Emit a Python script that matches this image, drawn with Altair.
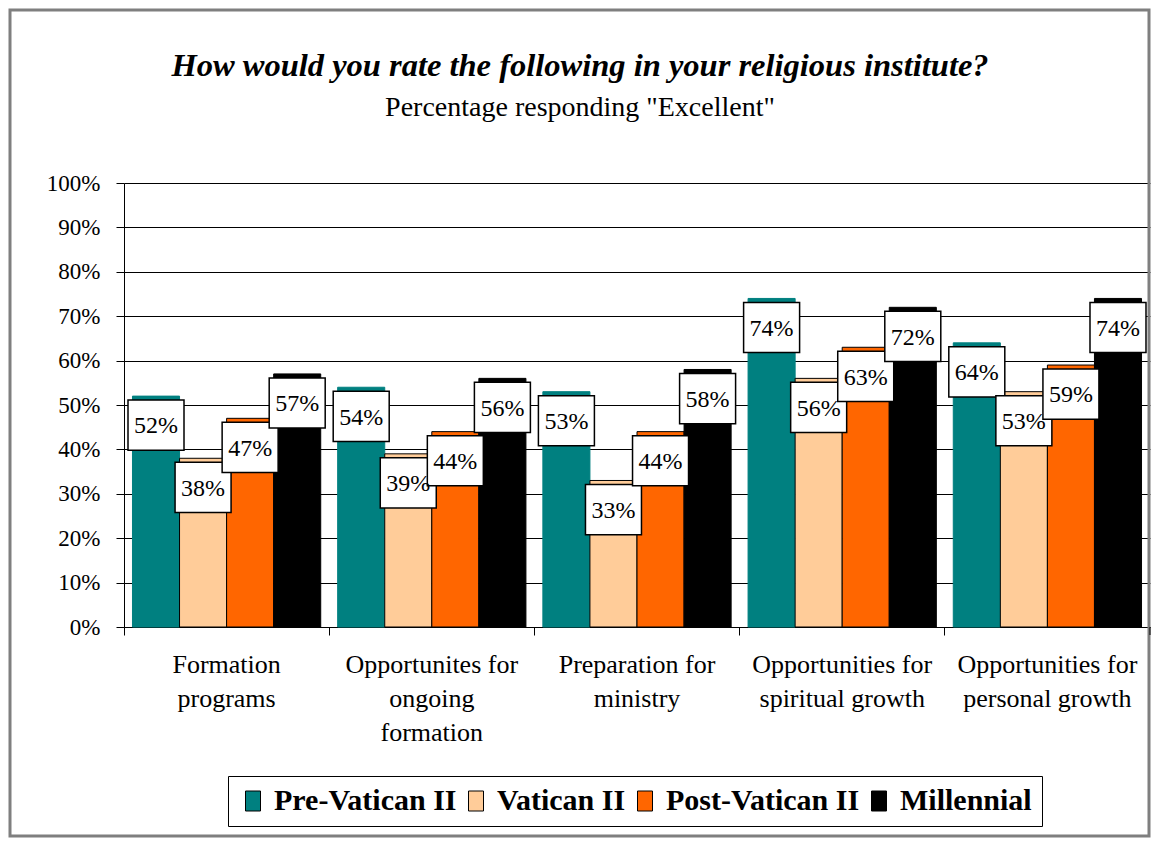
import altair as alt
import pandas as pd

categories = [
    "Formation\nprograms",
    "Opportunites for\nongoing\nformation",
    "Preparation for\nministry",
    "Opportunities for\nspiritual growth",
    "Opportunities for\npersonal growth",
]
series = ["Pre-Vatican II", "Vatican II", "Post-Vatican II", "Millennial"]
colors = ["#008080", "#FFCC99", "#FF6600", "#000000"]

pre_vatican = [52, 54, 53, 74, 64]
vatican = [38, 39, 33, 56, 53]
post_vatican = [47, 44, 44, 63, 59]
millennial = [57, 56, 58, 72, 74]

y_ticks = [0, 10, 20, 30, 40, 50, 60, 70, 80, 90, 100]
title_text = "How would you rate the following in your religious institute?"
subtitle_text = 'Percentage responding "Excellent"'

rows = []
for s, vals in zip(series, [pre_vatican, vatican, post_vatican, millennial]):
    for c, v in zip(categories, vals):
        rows.append({"category": c, "series": s, "value": v})
df = pd.DataFrame(rows)

W, H = 1026, 444
FONT = "Liberation Serif"

x_enc = alt.X(
    "category:N",
    sort=categories,
    scale=alt.Scale(paddingInner=0, paddingOuter=0),
    axis=alt.Axis(
        title=None,
        labelAngle=0,
        labelExpr="split(datum.label, '\\n')",
        labelFont=FONT,
        labelFontSize=26,
        labelColor="black",
        labelLineHeight=34,
        labelBaseline="top",
        labelPadding=16,
        labelLimit=0,
        bandPosition=0,
        tickSize=8,
        tickColor="black",
        domainColor="black",
        grid=False,
    ),
)
xoff = alt.XOffset(
    "series:N", sort=series, scale=alt.Scale(paddingInner=0, paddingOuter=0.18)
)

base = alt.Chart(df)

bars = base.mark_bar(strokeWidth=1).encode(
    x=x_enc,
    xOffset=xoff,
    y=alt.Y(
        "value:Q",
        scale=alt.Scale(domain=[0, 100], nice=False),
        axis=alt.Axis(
            title=None,
            values=y_ticks,
            labelExpr="datum.value + '%'",
            labelFont=FONT,
            labelFontSize=23,
            labelColor="black",
            labelPadding=16,
            tickSize=8,
            tickColor="black",
            domainColor="black",
            grid=True,
            gridColor="black",
            gridWidth=1,
            gridOpacity=1,
        ),
    ),
    fill=alt.Fill(
        "series:N",
        sort=series,
        scale=alt.Scale(domain=series, range=colors),
        legend=alt.Legend(
            title=None,
            orient="none",
            legendX=104,
            legendY=593,
            direction="horizontal",
            labelFont=FONT,
            labelFontSize=30,
            labelFontWeight="bold",
            labelColor="black",
            labelLimit=0,
            symbolType="M-0.75,-1L0.75,-1L0.75,1L-0.75,1Z",
            symbolSize=400,
            symbolStrokeColor="black",
            symbolStrokeWidth=1,
            labelOffset=6,
            columnPadding=4,
            padding=10,
            strokeColor="black",
            fillColor="white",
        ),
    ),
    stroke=alt.condition(
        alt.datum.series == "Pre-Vatican II", alt.value("#008080"), alt.value("black")
    ),
)

boxes = base.transform_calculate(
    top="datum.value - 0.9", bot="datum.value - 12.2"
).mark_bar(size=56, fill="white", stroke="black", strokeWidth=1.5).encode(
    x=alt.X("category:N", sort=categories),
    xOffset=xoff,
    y=alt.Y("top:Q"),
    y2="bot:Q",
)

labels = base.transform_calculate(
    mid="datum.value - 6.6", label="datum.value + '%'"
).mark_text(font=FONT, fontSize=24, color="black", baseline="middle", dy=1).encode(
    x=alt.X("category:N", sort=categories),
    xOffset=xoff,
    y=alt.Y("mid:Q"),
    text="label:N",
)

one = pd.DataFrame({"title": [title_text], "subtitle": [subtitle_text]})
title = alt.Chart(one).mark_text(
    font=FONT, fontSize=32.5, fontStyle="italic", fontWeight="bold", color="black",
    align="center", baseline="alphabetic"
).encode(x=alt.value(456), y=alt.value(-107), text="title:N")
subtitle = alt.Chart(one).mark_text(
    font=FONT, fontSize=28, color="black", align="center", baseline="alphabetic"
).encode(x=alt.value(456), y=alt.value(-67), text="subtitle:N")

frame = alt.Chart(one).mark_rect(
    fill=None, fillOpacity=0, stroke="#7f7f7f", strokeWidth=3
).encode(x=alt.value(-114), x2=alt.value(1025), y=alt.value(-173), y2=alt.value(653))

end_tick = alt.Chart(one).mark_rule(color="black").encode(
    x=alt.value(W), y=alt.value(H), y2=alt.value(H + 8)
)

chart = (
    alt.layer(frame, bars, boxes, labels, title, subtitle, end_tick)
    .properties(
        width=W,
        height=H,
        autosize=alt.AutoSizeParams(type="none"),
        padding={"left": 116, "top": 175, "right": 1, "bottom": 211},
        background="white",
    )
    .configure_view(stroke=None)
)

chart.save("out.html", embed_options={"renderer": "svg", "actions": False})
